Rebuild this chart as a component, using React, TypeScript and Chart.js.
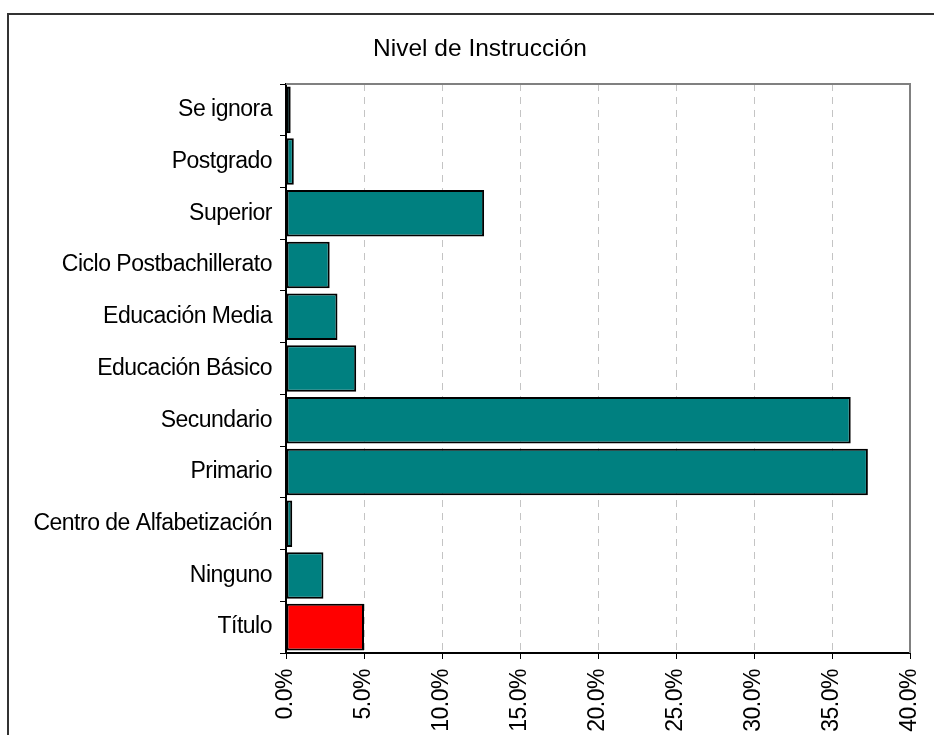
import React, { useEffect, useRef } from 'react';
import { Chart, registerables } from 'chart.js';

Chart.register(...registerables);

const chartTitle = 'Nivel de Instrucción';

const categories = [
  'Se ignora',
  'Postgrado',
  'Superior',
  'Ciclo Postbachillerato',
  'Educación Media',
  'Educación Básico',
  'Secundario',
  'Primario',
  'Centro de Alfabetización',
  'Ninguno',
  'Título',
];

const percentValues = [0.3, 0.5, 12.7, 2.8, 3.3, 4.5, 36.2, 37.3, 0.4, 2.4, 5.0];

const highlightCategory = 'Título';

const axisMin = 0;
const axisMax = 40;
const axisStep = 5;

const FONT = '"Liberation Sans", Arial, Helvetica, sans-serif';
const SPACING = '-0.5px';

const framePlugin = {
  id: 'framePlugin',
  beforeInit(chart: any) {
    chart.ctx.letterSpacing = SPACING;
  },
  beforeUpdate(chart: any) {
    chart.ctx.letterSpacing = SPACING;
  },
  beforeDraw(chart: any) {
    const ctx = chart.ctx;
    ctx.save();
    ctx.fillStyle = '#ffffff';
    ctx.fillRect(0, 0, chart.width, chart.height);
    ctx.fillStyle = '#333333';
    ctx.fillRect(7, 13, chart.width - 7, 2);
    ctx.fillRect(7, 13, 2, chart.height - 13);
    ctx.restore();
  },
  afterDraw(chart: any) {
    const { ctx, chartArea } = chart;
    const { left, top, right, bottom } = chartArea;
    ctx.save();
    ctx.strokeStyle = '#808080';
    ctx.lineWidth = 2;
    ctx.beginPath();
    ctx.moveTo(left, top);
    ctx.lineTo(right, top);
    ctx.lineTo(right, bottom);
    ctx.stroke();
    ctx.letterSpacing = '0px';
    ctx.font = `24.5px ${FONT}`;
    ctx.fillStyle = '#000000';
    ctx.textAlign = 'center';
    ctx.textBaseline = 'middle';
    ctx.fillText(chartTitle, 480, 49);
    ctx.restore();
    ctx.letterSpacing = SPACING;
  },
};

export default function App() {
  const canvasRef = useRef<HTMLCanvasElement | null>(null);

  useEffect(() => {
    document.body.style.margin = '0';
    document.body.style.overflow = 'hidden';
    const canvas = canvasRef.current;
    if (!canvas) return;
    const chart = new Chart(canvas, {
      type: 'bar',
      data: {
        labels: categories,
        datasets: [
          {
            data: percentValues,
            backgroundColor: (c: any) =>
              categories[c.dataIndex] === highlightCategory ? '#ff0000' : '#008080',
            borderColor: '#000000',
            borderWidth: 2,
            borderSkipped: false,
            barPercentage: 0.9,
            categoryPercentage: 1.0,
          },
        ],
      },
      options: {
        indexAxis: 'y',
        responsive: false,
        animation: false,
        events: [],
        layout: { padding: { left: 0, top: 84, right: 24, bottom: 0 } },
        plugins: {
          legend: { display: false },
          title: { display: false },
          tooltip: { enabled: false },
        },
        scales: {
          x: {
            type: 'linear',
            min: axisMin,
            max: axisMax,
            afterFit: (scale: any) => {
              scale.height = 82;
              scale.paddingLeft = 0;
              scale.paddingRight = 0;
            },
            ticks: {
              stepSize: axisStep,
              minRotation: 90,
              maxRotation: 90,
              padding: 10,
              color: '#000000',
              font: { family: FONT, size: 23 },
              callback: (v: any) => Number(v).toFixed(1) + '%',
            },
            grid: {
              color: (c: any) =>
                c.tick && (c.tick.value === axisMin || c.tick.value === axisMax)
                  ? 'rgba(0,0,0,0)'
                  : '#c4c4c4',
              lineWidth: 1,
              tickColor: '#000000',
              tickLength: 6,
              tickWidth: 1,
            },
            border: { color: '#000000', width: 2, dash: [7, 6] },
          },
          y: {
            type: 'category',
            afterFit: (scale: any) => {
              scale.width = 286;
              scale.paddingTop = 0;
              scale.paddingBottom = 0;
            },
            ticks: {
              padding: 8,
              color: '#000000',
              font: { family: FONT, size: 23 },
            },
            grid: {
              drawOnChartArea: false,
              offset: true,
              tickColor: '#000000',
              tickLength: 6,
              tickWidth: 1,
            },
            border: { color: '#000000', width: 2 },
          },
        },
      },
      plugins: [framePlugin],
    } as any);
    return () => chart.destroy();
  }, []);

  return (
    <canvas
      ref={canvasRef}
      width={934}
      height={735}
      style={{ display: 'block', width: 934, height: 735 }}
    />
  );
}
